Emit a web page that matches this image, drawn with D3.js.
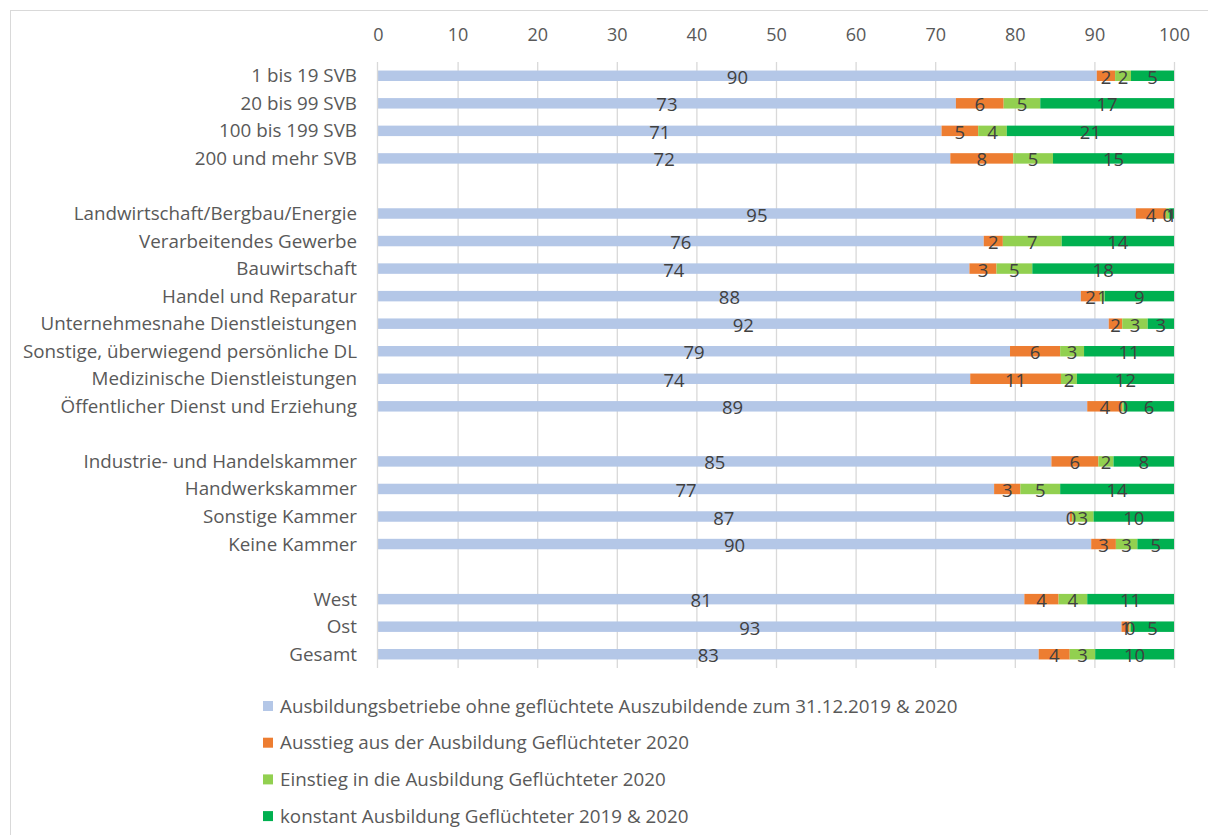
<!DOCTYPE html>
<html>
<head>
<meta charset="utf-8">
<script src="https://cdn.jsdelivr.net/npm/d3@7"></script>
<style>
  html, body { margin: 0; padding: 0; background: #fff; }
  svg { display: block; font-family: "Open Sans", sans-serif; }
</style>
</head>
<body>
<svg id="chart" width="1208" height="835"></svg>
<script>
// Row groups (blank row between groups)
const groupSize = ["1 bis 19 SVB", "20 bis 99 SVB", "100 bis 199 SVB", "200 und mehr SVB"];
const groupBranch = ["Landwirtschaft/Bergbau/Energie", "Verarbeitendes Gewerbe", "Bauwirtschaft",
  "Handel und Reparatur", "Unternehmesnahe Dienstleistungen", "Sonstige, überwiegend persönliche DL",
  "Medizinische Dienstleistungen", "Öffentlicher Dienst und Erziehung"];
const groupChamber = ["Industrie- und Handelskammer", "Handwerkskammer", "Sonstige Kammer", "Keine Kammer"];
const groupRegion = ["West", "Ost", "Gesamt"];

// Shares in percent, in row order (size, branch, chamber, region)
const ohneGefluechtete = [90.3, 72.6, 70.8, 71.9, 95.2, 76.1, 74.3, 88.3, 91.8, 79.4, 74.4, 89.1, 84.6, 77.4, 86.9, 89.6, 81.2, 93.4, 83.0];
const ausstieg        = [2.3, 6.0, 4.6, 7.9, 3.8, 2.4, 3.4, 2.4, 1.7, 6.3, 11.4, 4.4, 5.9, 3.3, 0.3, 3.1, 4.3, 1.0, 3.9];
const einstieg        = [2.0, 4.6, 3.6, 5.0, 0.4, 7.4, 4.5, 0.6, 3.2, 3.0, 2.0, 0.2, 1.9, 5.0, 2.7, 2.7, 3.6, 0.2, 3.2];
const konstant        = [5.4, 16.8, 21.0, 15.2, 0.6, 14.1, 17.8, 8.7, 3.3, 11.3, 12.2, 6.3, 7.6, 14.3, 10.1, 4.6, 10.9, 5.4, 9.9];

const xTicks = [0, 10, 20, 30, 40, 50, 60, 70, 80, 90, 100];

const seriesNames = [
  "Ausbildungsbetriebe ohne geflüchtete Auszubildende zum 31.12.2019 & 2020",
  "Ausstieg aus der Ausbildung Geflüchteter 2020",
  "Einstieg in die Ausbildung Geflüchteter 2020",
  "konstant Ausbildung Geflüchteter 2019 & 2020"
];
const seriesColors = ["#b4c7e7", "#ed7d31", "#92d050", "#00b050"];
const seriesKeys = ["ohne", "aus", "ein", "konst"];

const categories = [...groupSize, ...groupBranch, ...groupChamber, ...groupRegion];
const rows = categories.map((c, i) => ({
  cat: c, ohne: ohneGefluechtete[i], aus: ausstieg[i], ein: einstieg[i], konst: konstant[i]
}));

// Band domain with spacer slots between the groups
const domain = [...groupSize, "gap1", ...groupBranch, "gap2", ...groupChamber, "gap3", ...groupRegion];

const svg = d3.select("#chart");

// outer frame
svg.append("rect").attr("x", 10.5).attr("y", 10.5).attr("width", 1210).attr("height", 840)
  .attr("fill", "none").attr("stroke", "#d9d9d9");

const x = d3.scaleLinear().domain([0, 100]).range([378, 1174]);
const y = d3.scaleBand().domain(domain).range([62, 668]).paddingInner(0.62).paddingOuter(0.31);

// gridlines
svg.append("g").selectAll("line").data(xTicks.filter(t => t > 0)).join("line")
  .attr("x1", d => x(d) + 0.5).attr("x2", d => x(d) + 0.5)
  .attr("y1", 62).attr("y2", 668)
  .attr("stroke", "#d9d9d9").attr("stroke-width", 1.3);

// top axis labels
const xAxis = d3.axisTop(x).tickValues(xTicks).tickSize(0).tickPadding(0);
const gx = svg.append("g").attr("transform", "translate(0,41)").call(xAxis);
gx.select(".domain").remove();
gx.selectAll("text").attr("fill", "#595959").style("font-size", "18px")
  .style("font-family", "'Open Sans', sans-serif");

// stacked bars
const stack = d3.stack().keys(seriesKeys);
const stacked = stack(rows);

const layers = svg.append("g").selectAll("g").data(stacked).join("g")
  .attr("fill", (d, i) => seriesColors[i]);

layers.selectAll("rect").data(d => d).join("rect")
  .attr("x", d => x(d[0]))
  .attr("width", d => x(d[1]) - x(d[0]))
  .attr("y", d => y(d.data.cat))
  .attr("height", y.bandwidth());

// vertical axis line at 0
svg.append("line").attr("x1", x(0) - 0.5).attr("x2", x(0) - 0.5).attr("y1", 62).attr("y2", 668)
  .attr("stroke", "#d9d9d9").attr("stroke-width", 1.3);

// value labels
const fmt = d3.format(".0f");
svg.append("g").selectAll("g").data(stacked).join("g")
  .selectAll("text").data(d => d).join("text")
  .attr("x", d => (x(d[0]) + x(d[1])) / 2)
  .attr("y", d => y(d.data.cat) + y.bandwidth() / 2 + 8)
  .attr("text-anchor", "middle")
  .attr("fill", "#404040")
  .style("font-size", "18.5px")
  .text(d => fmt(d[1] - d[0]));

// category labels
svg.append("g").selectAll("text").data(categories).join("text")
  .attr("x", 357)
  .attr("y", d => y(d) + y.bandwidth() / 2 + 6.5)
  .attr("text-anchor", "end")
  .attr("fill", "#595959")
  .style("font-size", "18.8px")
  .text(d => d);

// legend
const legend = svg.append("g").selectAll("g").data(seriesNames).join("g")
  .attr("transform", (d, i) => `translate(263, ${706 + i * 36.7})`);
legend.append("rect").attr("x", 0).attr("y", -5).attr("width", 10).attr("height", 10)
  .attr("fill", (d, i) => seriesColors[i]);
legend.append("text").attr("x", 17).attr("y", 6.5)
  .attr("fill", "#595959").style("font-size", "18.8px").text(d => d);
</script>
</body>
</html>
